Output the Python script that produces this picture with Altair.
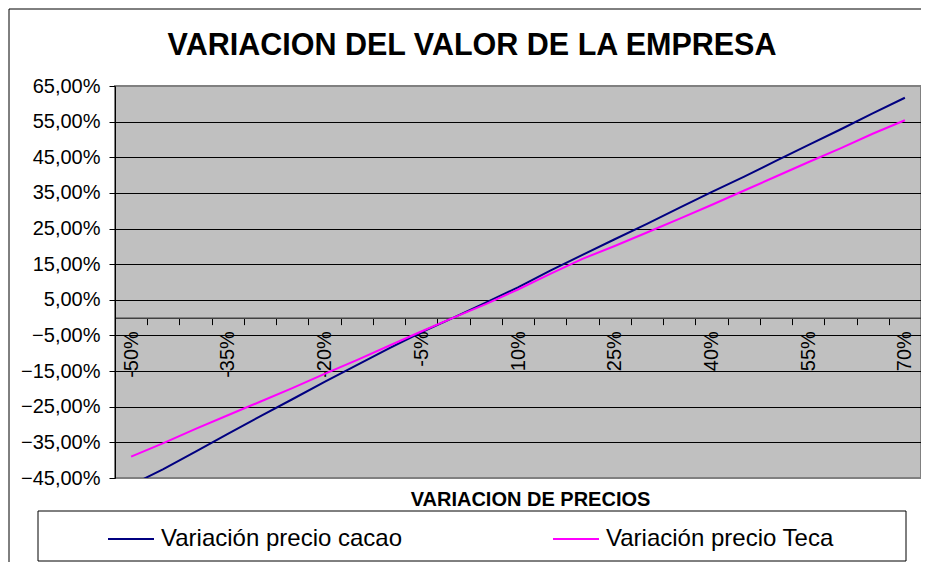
import altair as alt
import pandas as pd

# ---- data ----
price_labels = ["-50%", "-45%", "-40%", "-35%", "-30%", "-25%", "-20%", "-15%", "-10%", "-5%",
                "0%", "5%", "10%", "15%", "20%", "25%", "30%", "35%", "40%", "45%",
                "50%", "55%", "60%", "65%", "70%"]
cacao = [-47.0, -42.5, -37.6, -32.6, -27.7, -22.9, -18.0, -13.3, -8.6, -4.1,
         0.0, 4.2, 8.5, 13.2, 17.6, 22.0, 26.3, 30.8, 35.2, 39.5,
         44.0, 48.4, 52.8, 57.3, 61.7]
teca = [-39.0, -35.2, -31.2, -27.4, -23.6, -19.8, -15.8, -11.9, -7.9, -3.9,
        0.0, 3.8, 7.9, 12.3, 16.5, 20.1, 23.9, 27.7, 31.6, 35.6,
        39.6, 43.6, 47.5, 51.6, 55.4]
series_names = ["Variación precio cacao", "Variación precio Teca"]
series_colors = ["#000080", "#FF00FF"]
y_ticks = [-45, -35, -25, -15, -5, 5, 15, 25, 35, 45, 55, 65]
shown_x_labels = ["-50%", "-35%", "-20%", "-5%", "10%", "25%", "40%", "55%", "70%"]
title_text = "VARIACION DEL VALOR DE LA EMPRESA"
x_title = "VARIACION DE PRECIOS"

rows = []
for lab, c, t in zip(price_labels, cacao, teca):
    rows.append({"precio": lab, "serie": series_names[0], "valor": c})
    rows.append({"precio": lab, "serie": series_names[1], "valor": t})
df = pd.DataFrame(rows)

FONT = "Liberation Sans, Arial, Helvetica, sans-serif"
W, H = 806, 392
zero_offset = -(H - H * 65 / 110)

label_list = ",".join("'" + s + "'" for s in shown_x_labels)

x_enc = alt.X(
    "precio:N", sort=price_labels, bandPosition=0.5,
    scale=alt.Scale(type="band", paddingInner=0, paddingOuter=0),
    axis=alt.Axis(
        title=x_title, offset=zero_offset, labelAngle=270,
        labelExpr=f"indexof([{label_list}], datum.value) >= 0 ? datum.label : ''",
        tickBand="extent", tickColor="black", tickSize=7, tickWidth=1,
        domainColor="#404040", domainWidth=1.5,
        labelFont=FONT, labelFontSize=20, labelColor="black", labelPadding=6,
        labelOverlap=False, labelBound=False, labelFlush=False,
        titleFont=FONT, titleFontSize=20, titleFontWeight="bold", titleColor="black",
        titleX=415, titleY=182, titleBaseline="middle", titleAlign="center",
        grid=False,
    ),
)

y_enc = alt.Y(
    "valor:Q",
    scale=alt.Scale(domain=[-45, 65], nice=False, zero=False),
    axis=alt.Axis(
        values=y_ticks, title=None,
        labelExpr="replace(format(datum.value, '.2f'), '.', ',') + '%'",
        grid=True,
        gridColor={"condition": {"test": "datum.value == 65 || datum.value == -45", "value": "#808080"},
                   "value": "black"},
        gridWidth=1,
        domainColor="black", tickColor="black", tickSize=6, labelPadding=9,
        labelFont=FONT, labelFontSize=20, labelColor="black", labelOverlap=False,
    ),
)

color_enc = alt.Color(
    "serie:N", sort=series_names,
    scale=alt.Scale(domain=series_names, range=series_colors),
    legend=alt.Legend(
        title=None, orient="none", legendX=-8, legendY=429, direction="horizontal",
        symbolType="stroke", symbolSize=2116, symbolStrokeWidth=2,
        labelFont=FONT, labelFontSize=24, labelColor="black", labelLimit=400,
        labelOffset=6, columnPadding=146,
    ),
)

lines = alt.Chart(df).mark_line(strokeWidth=2, clip=True).encode(
    x=x_enc, y=y_enc, color=color_enc
)

one = pd.DataFrame({"k": [0]})
legend_box = alt.Chart(one).mark_rect(fill="white", stroke="black", strokeWidth=1).encode(
    x=alt.value(-77), x2=alt.value(791), y=alt.value(425), y2=alt.value(475)
)
frame = alt.Chart(one).mark_rect(fillOpacity=0, stroke="black", strokeWidth=1).encode(
    x=alt.value(-106), x2=alt.value(1000), y=alt.value(-77), y2=alt.value(700)
)

chart = alt.layer(frame, legend_box, lines).properties(
    width=W, height=H,
    background="white",
    autosize=alt.AutoSizeParams(type="none"),
    padding={"left": 107, "top": 78, "right": 0, "bottom": 84},
    title=alt.TitleParams(
        title_text, font=FONT, fontSize=30.5, fontWeight="bold", color="black",
        anchor="middle", frame="group", dx=-46, dy=68, offset=0, baseline="middle",
    ),
).configure_view(
    fill="#C0C0C0", stroke="#808080", strokeWidth=2
)

chart.save("out.html", embed_options={"renderer": "svg", "actions": False})
